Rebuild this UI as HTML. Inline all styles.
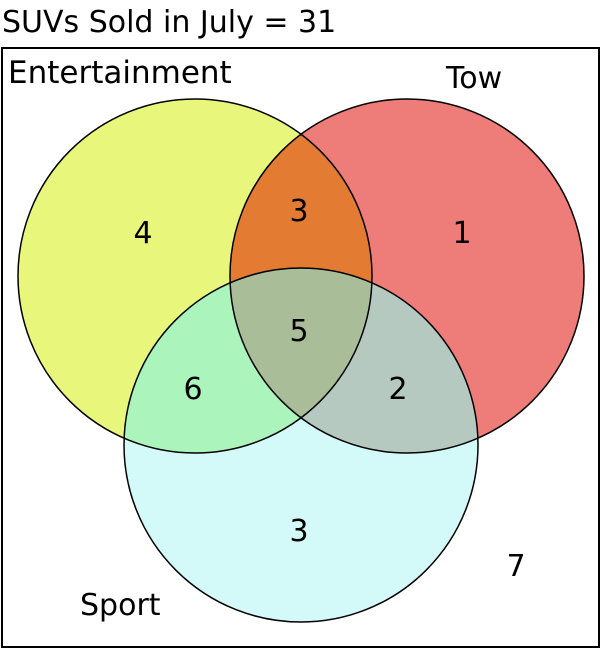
<!DOCTYPE html>
<html><head><meta charset="utf-8"><style>
body{margin:0;background:#fff;width:602px;height:650px;overflow:hidden}
svg{display:block;font-family:"DejaVu Sans","Liberation Sans",sans-serif}
</style></head><body>
<svg id="chart" width="602" height="650">
<text x="2" y="32" font-size="30" fill="#000">SUVs Sold in July = 31</text>
<rect x="2" y="48" width="597" height="599" fill="#fff" stroke="#000" stroke-width="2"/>
<defs>
<clipPath id="cE"><circle cx="195" cy="276" r="177"/></clipPath>
<clipPath id="cT"><circle cx="407" cy="276" r="177"/></clipPath>
<clipPath id="cS"><circle cx="301" cy="445" r="177"/></clipPath>
</defs>
<g id="regions"></g>
<g id="outlines"></g>
<g id="labels"></g>
</svg>
<script>
const setNames=["Entertainment","Tow","Sport"];
const regionKeys=["E","T","S","ET","ES","TS","ETS"];
const regionCounts=[4,1,3,3,6,2,5];
const outsideCount=7;
const ns="http://www.w3.org/2000/svg";
const circles={E:{cx:195,cy:276,r:177,fill:"#e9f67c"},T:{cx:407,cy:276,r:177,fill:"#ee7c78"},S:{cx:301,cy:445,r:177,fill:"#d4f9f9"}};
const overlapFill={ET:"#e47b33",ES:"#abf5bd",TS:"#b6c9c0",ETS:"#a9bd98"};
const labelPos={E:[143,232],T:[462,232],S:[299,530],ET:[299,210],ES:[193,388],TS:[398,388],ETS:[299,330]};
const setLabelPos=[[8,83],[446,88],[80,615]];
const reg=document.getElementById('regions');
for(const k of ["E","T","S"]){const c=circles[k];const e=document.createElementNS(ns,'circle');
e.setAttribute('cx',c.cx);e.setAttribute('cy',c.cy);e.setAttribute('r',c.r);e.setAttribute('fill',c.fill);


reg.appendChild(e);}
function clipped(k,parent){const ks=k.split('');const last=ks[ks.length-1];const c=circles[last];
let node=document.createElementNS(ns,'circle');node.setAttribute('cx',c.cx);node.setAttribute('cy',c.cy);node.setAttribute('r',c.r);node.setAttribute('fill',overlapFill[k]);
let wrap=node;for(let i=0;i<ks.length-1;i++){const g=document.createElementNS(ns,'g');g.setAttribute('clip-path','url(#c'+ks[i]+')');g.appendChild(wrap);wrap=g;}


parent.appendChild(wrap);}
["ET","ES","TS","ETS"].forEach(k=>clipped(k,reg));
const out=document.getElementById('outlines');
for(const k of ["E","T","S"]){const c=circles[k];const e=document.createElementNS(ns,'circle');
e.setAttribute('cx',c.cx);e.setAttribute('cy',c.cy);e.setAttribute('r',c.r);e.setAttribute('fill','none');e.setAttribute('stroke','#000');e.setAttribute('stroke-width','1.5');


out.appendChild(e);}
const lab=document.getElementById('labels');
function txt(x,y,s,size,anchor,name){const t=document.createElementNS(ns,'text');t.setAttribute('x',x);t.setAttribute('y',y);t.setAttribute('font-size',size);t.setAttribute('text-anchor',anchor);t.textContent=s;


lab.appendChild(t);}
regionKeys.forEach((k,i)=>{const p=labelPos[k];txt(p[0],p[1]+11,regionCounts[i],30,'middle','count-'+k.toLowerCase());});
txt(516,576,outsideCount,30,'middle','count-outside');
setNames.forEach((n,i)=>{txt(setLabelPos[i][0],setLabelPos[i][1],n,i===0?31:30,'start','set-label-'+n.toLowerCase());});
</script>
</body></html>
